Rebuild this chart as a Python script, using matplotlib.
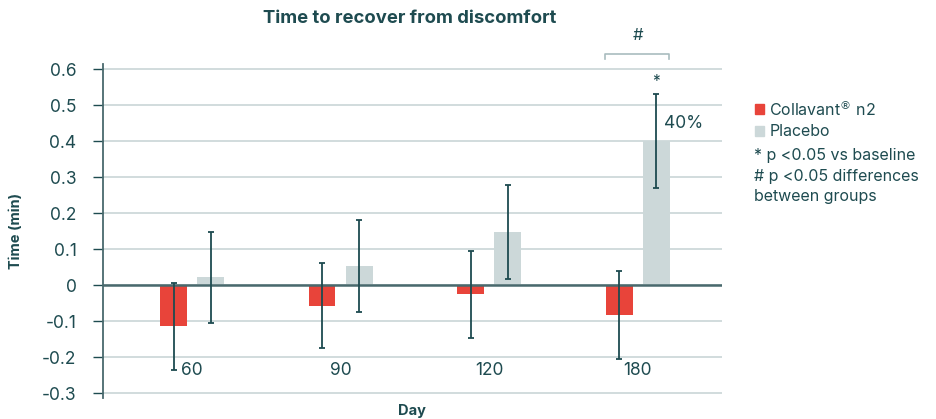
import numpy as np
import matplotlib.pyplot as plt

plt.rcParams['font.family'] = ['Inter', 'DejaVu Sans']

# Data
days = ["60", "90", "120", "180"]
collavant = [-0.115, -0.057, -0.025, -0.082]
collavant_err = [0.120, 0.119, 0.121, 0.122]
placebo = [0.022, 0.052, 0.147, 0.400]
placebo_err = [0.126, 0.128, 0.130, 0.131]

red = "#E8443A"
grey = "#CCD8D9"
dark = "#1E4B50"
gridc = "#C9D5D7"

fig = plt.figure(figsize=(9.36, 4.19), dpi=100)
ax = fig.add_axes([0.110, 0.049, 0.661, 0.799])

x = np.arange(len(days))
w = 0.18
off = 0.125

ax.bar(x - off, collavant, w, color=red, zorder=2)
ax.bar(x + off, placebo, w, color=grey, zorder=2)
ax.errorbar(x - off, collavant, yerr=collavant_err, fmt="none", ecolor=dark,
            elinewidth=1.3, capsize=2.5, capthick=1.3, zorder=3)
ax.errorbar(x + off, placebo, yerr=placebo_err, fmt="none", ecolor=dark,
            elinewidth=1.3, capsize=2.5, capthick=1.3, zorder=3)

ax.set_xlim(-0.6, 3.565)
ax.set_ylim(-0.315, 0.615)
ax.set_yticks(np.round(np.arange(-0.3, 0.61, 0.1), 1))
ax.set_yticklabels(["-0.3", "-0.2", "-0.1", "0", "0.1", "0.2", "0.3", "0.4", "0.5", "0.6"])
ax.tick_params(axis="y", colors=dark, labelsize=12.5, length=7, width=1, pad=12)
ax.set_xticks([])
ax.grid(axis="y", color=gridc, linewidth=1.2, zorder=0)
ax.axhline(0, color="#49696D", linewidth=1.8, zorder=2.5)

for s in ["top", "right", "bottom"]:
    ax.spines[s].set_visible(False)
ax.spines["left"].set_color("#49696D")
ax.spines["left"].set_linewidth(1.3)

# day labels inside plot
for xi, d in zip(x, days):
    ax.text(xi, -0.236, d, ha="center", va="center", fontsize=12.5, color=dark)

ax.set_xlabel("Day", fontsize=10.5, fontweight="bold", color=dark, labelpad=4)
ax.set_ylabel("Time (min)", fontsize=10.5, fontweight="bold", color=dark, labelpad=14)
fig.suptitle("Time to recover from discomfort", x=0.438, y=0.975, fontsize=13.3,
             fontweight="bold", color=dark)

# significance marks
ax.text(3 + off, placebo[3] + placebo_err[3] + 0.035, "*", ha="center", va="center",
        fontsize=11, color=dark)
ax.text(3 + off + 0.05, 0.45, "40%", ha="left", va="center", fontsize=12.5, color=dark)
ax.text(3, 0.692, "#", ha="center", va="center", fontsize=12, color=dark, clip_on=False)
ax.plot([3 - 0.22, 3 - 0.22, 3 + 0.21, 3 + 0.21], [0.628, 0.642, 0.642, 0.628],
        color="#A9BCBF", linewidth=1.2, clip_on=False)

# legend
fig.patches.append(plt.Rectangle((0.807, 0.727), 0.0095, 0.024, color=red,
                                 transform=fig.transFigure))
fig.patches.append(plt.Rectangle((0.807, 0.675), 0.0095, 0.024, color=grey,
                                 transform=fig.transFigure))
fig.text(0.822, 0.739, "Collavant$^{®}$ n2", va="center", fontsize=11.5, color=dark)
fig.text(0.822, 0.687, "Placebo", va="center", fontsize=11.5, color=dark)
fig.text(0.806, 0.628, "* p <0.05 vs baseline", va="center", fontsize=11.5, color=dark)
fig.text(0.806, 0.579, "# p <0.05 differences", va="center", fontsize=11.5, color=dark)
fig.text(0.806, 0.531, "between groups", va="center", fontsize=11.5, color=dark)

fig.savefig("out.png", dpi=100)
